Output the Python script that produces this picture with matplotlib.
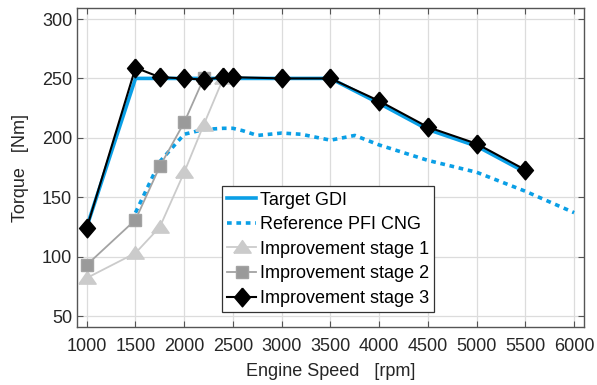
import matplotlib
matplotlib.use('Agg')
import matplotlib.pyplot as plt

plt.rcParams['font.family'] = ['Liberation Sans', 'DejaVu Sans']

# Full-load torque curves [Nm] vs engine speed [rpm]
rpm_gdi = [1000, 1500, 2000, 2500, 3000, 3500, 4000, 4500, 5000, 5500]
torque_gdi = [125, 250, 250, 250, 250, 250, 229, 207, 193, 171]

rpm_pfi = [1500, 1750, 2000, 2200, 2400, 2500, 2600, 2750, 3000, 3200,
           3500, 3750, 4000, 4500, 5000, 5500, 6000]
torque_pfi = [137, 180, 203, 207, 208, 208, 206, 202, 204, 203,
              198, 202, 194, 181, 171, 155, 137]

rpm_st1 = [1000, 1500, 1750, 2000, 2200, 2400]
torque_st1 = [82, 103, 125, 171, 211, 250]

rpm_st2 = [1000, 1500, 1750, 2000, 2200]
torque_st2 = [93, 131, 176, 213, 250]

rpm_st3 = [1000, 1500, 1750, 2000, 2200, 2400, 2500, 3000, 3500, 4000, 4500, 5000, 5500]
torque_st3 = [124, 259, 251, 250, 249, 251, 251, 250, 250, 231, 209, 195, 173]

x_ticks = list(range(1000, 6001, 500))
y_ticks = list(range(50, 301, 50))

blue = '#0a9fe6'
txt = '#262626'

# wide, flat triangle and tall diamond markers
tri = [(-1, -0.65), (1, -0.65), (0, 0.8), (-1, -0.65)]
dia = [(0, 1), (0.85, 0), (0, -1), (-0.85, 0), (0, 1)]

fig = plt.figure(figsize=(5.97, 3.85), dpi=100)
ax = fig.add_axes([0.129, 0.1514, 0.849, 0.827])

ax.plot(rpm_gdi, torque_gdi, color=blue, lw=2.6, label='Target GDI', zorder=3)
ax.plot(rpm_pfi, torque_pfi, color=blue, lw=2.6, dashes=(1.3, 1.3),
        dash_capstyle='butt', label='Reference PFI CNG', zorder=3)
ax.plot(rpm_st1, torque_st1, color='#cbcbcb', lw=1.3, marker=tri, ms=12.5,
        mfc='#cbcbcb', mec='#cbcbcb', label='Improvement stage 1', zorder=4)
ax.plot(rpm_st2, torque_st2, color='#a3a3a3', lw=1.3, marker='s', ms=9,
        mfc='#9a9a9a', mec='#a3a3a3', label='Improvement stage 2', zorder=5)
ax.plot(rpm_st3, torque_st3, color='black', lw=1.5, marker=dia, ms=13.5,
        mfc='black', mec='black', label='Improvement stage 3', zorder=6)

ax.set_xlim(900, 6100)
ax.set_ylim(41, 309)
ax.set_xticks(x_ticks)
ax.set_yticks(y_ticks)
ax.grid(True, color='#dcdcdc', lw=0.9)
ax.set_axisbelow(True)

ax.tick_params(direction='in', top=True, right=True, length=4, width=0.8,
               colors='#555555', labelcolor=txt, labelsize=13)
ax.tick_params(axis='x', pad=8)
for s in ax.spines.values():
    s.set_color('#555555')
    s.set_linewidth(1.0)

ax.set_xlabel('Engine Speed   [rpm]', fontsize=13, color=txt, labelpad=6)
ax.set_ylabel('Torque   [Nm]', fontsize=13, color=txt, labelpad=9)

leg = ax.legend(loc='lower left', bbox_to_anchor=(0.286, 0.045), fontsize=13,
                frameon=True, fancybox=False, framealpha=1, edgecolor='#333333',
                borderpad=0.3, labelspacing=0.42, handlelength=1.6,
                handletextpad=0.2, borderaxespad=0)
leg.get_frame().set_linewidth(0.9)
for t in leg.get_texts():
    t.set_color('black')

fig.savefig('out.png', dpi=100)
